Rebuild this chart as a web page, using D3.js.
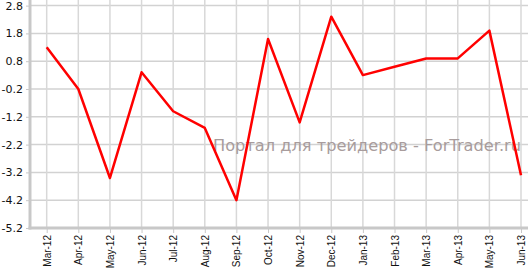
<!DOCTYPE html>
<html>
<head>
<meta charset="utf-8">
<script src="https://cdn.jsdelivr.net/npm/d3@7"></script>
<style>
  body { margin: 0; background: #fff; }
  svg { display: block; }
</style>
</head>
<body>
<div class="chart"></div>
<script>
// monthly values, Mar-12 .. Jun-13
var months = ['Mar-12', 'Apr-12', 'May-12', 'Jun-12', 'Jul-12', 'Aug-12', 'Sep-12', 'Oct-12',
  'Nov-12', 'Dec-12', 'Jan-13', 'Feb-13', 'Mar-13', 'Apr-13', 'May-13', 'Jun-13'];
var values = [1.3, -0.2, -3.4, 0.4, -1.0, -1.6, -4.2, 1.6, -1.4, 2.4, 0.3, 0.6, 0.9, 0.9, 1.9, -3.3];
var yTicks = [2.8, 1.8, 0.8, -0.2, -1.2, -2.2, -3.2, -4.2, -5.2];
var watermark = 'Портал для трейдеров - ForTrader.ru';

var fullWidth = 528;
var fullHeight = 272;
var left = 30, bottom = 228;

var svg = d3.select('.chart').append('svg')
  .attr('width', fullWidth)
  .attr('height', fullHeight);

var xScale = d3.scalePoint()
  .domain(months)
  .range([46.7, 521]);

var yScale = d3.scaleLinear()
  .domain([-5.2, 2.8])
  .range([bottom, 5.6]);

// grid
svg.append('g').selectAll('line')
    .data(yTicks)
  .enter().append('line')
    .attr('x1', left).attr('x2', fullWidth)
    .attr('y1', function(d) { return yScale(d); })
    .attr('y2', function(d) { return yScale(d); })
    .attr('stroke', '#d2d2d2')
    .attr('stroke-width', 1.5);

svg.append('g').selectAll('line')
    .data(months)
  .enter().append('line')
    .attr('x1', function(d) { return xScale(d); })
    .attr('x2', function(d) { return xScale(d); })
    .attr('y1', 0).attr('y2', bottom)
    .attr('stroke', '#d8d8d8')
    .attr('stroke-width', 1.5);

// watermark
svg.append('text')
  .attr('x', 213)
  .attr('y', 151)
  .attr('textLength', 308)
  .attr('lengthAdjust', 'spacingAndGlyphs')
  .style('font-family', 'DejaVu Sans, Verdana, sans-serif')
  .style('font-size', '15px')
  .attr('fill', '#a89c9c')
  .text(watermark);

// axes
var yAxis = d3.axisLeft(yScale)
  .tickValues(yTicks)
  .tickSize(4)
  .tickPadding(3)
  .tickFormat(function(d) { return d.toFixed(1); });

var yAxisEle = svg.append('g')
  .classed('y axis', true)
  .attr('transform', 'translate(' + left + ',0)')
  .call(yAxis);
yAxisEle.select('.domain').remove();
yAxisEle.selectAll('.tick line').attr('stroke', '#c8c8c8');
yAxisEle.selectAll('.tick text')
  .style('font-family', 'DejaVu Sans, Verdana, sans-serif')
  .style('font-size', '11px')
  .attr('fill', '#111');

var xAxis = d3.axisBottom(xScale).tickSize(5).tickPadding(4);
var xAxisEle = svg.append('g')
  .classed('x axis', true)
  .attr('transform', 'translate(0,' + bottom + ')')
  .call(xAxis);
xAxisEle.select('.domain').remove();
xAxisEle.selectAll('.tick line').attr('stroke', '#c8c8c8');
xAxisEle.selectAll('.tick text')
  .style('font-family', 'Liberation Sans, Arial, sans-serif')
  .style('font-size', '10px')
  .attr('fill', '#111')
  .attr('text-anchor', 'end')
  .attr('transform', 'rotate(-90)')
  .attr('x', -7)
  .attr('y', 0)
  .attr('dy', '0.35em');

svg.append('line')
  .attr('x1', left).attr('x2', left)
  .attr('y1', 0).attr('y2', bottom + 1.5)
  .attr('stroke', '#c8c8c8').attr('stroke-width', 3);
svg.append('line')
  .attr('x1', left - 1.5).attr('x2', fullWidth)
  .attr('y1', bottom).attr('y2', bottom)
  .attr('stroke', '#c8c8c8').attr('stroke-width', 3);

// series
var line = d3.line()
  .x(function(d, i) { return xScale(months[i]); })
  .y(function(d) { return yScale(d); });

svg.append('path')
  .datum(values)
  .attr('d', line)
  .attr('fill', 'none')
  .attr('stroke', '#ff0000')
  .attr('stroke-width', 2.5)
  .attr('stroke-linejoin', 'round');
</script>
</body>
</html>
